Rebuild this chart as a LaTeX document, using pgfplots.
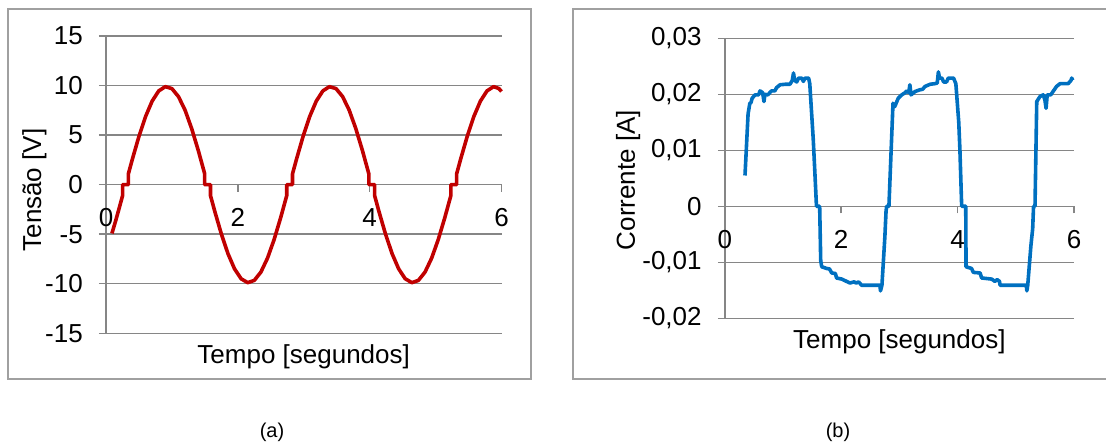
\documentclass[border=0pt]{standalone}
\usepackage{fontspec}
\setmainfont{Liberation Sans}
\usepackage{pgfplots}
\pgfplotsset{compat=1.18}
\definecolor{gridgray}{RGB}{134,134,134}
\definecolor{framegray}{RGB}{160,160,160}
\definecolor{exred}{RGB}{192,0,0}
\definecolor{exblue}{RGB}{0,112,192}
\pgfplotsset{excel/.style={
  scale only axis, anchor=south west,
  axis x line=middle, axis y line=left,
  axis line style={-, gridgray, line width=1.5pt},
  tick style={gridgray, line width=1.5pt},
  major tick length=7pt,
  tick align=outside,
  ymajorgrids, grid style={gridgray, line width=1.5pt},
  xmin=0, xmax=6, xtick={0,2,4,6}, xticklabels={0,2,4,6},
  hide obscured x ticks=false,
  scaled y ticks=false, scaled x ticks=false,
  ticklabel style={font=\fontsize{26}{26}\selectfont, inner sep=0pt},
  xticklabel style={anchor=north, yshift=-17pt},
  yticklabel style={anchor=east, xshift=-16pt},
  clip=false,
}}
\begin{document}
\begin{tikzpicture}
\path[use as bounding box] (0,0) rectangle (1106pt,444pt);
\draw[framegray, line width=1.8pt] (7.6pt,64.7pt) rectangle (530.7pt,435pt);
\draw[framegray, line width=1.8pt] (573.3pt,64.7pt) rectangle (1112pt,435pt);

\begin{axis}[excel, at={(106pt,110.7pt)}, width=395.5pt, height=297.3pt,
  ymin=-15, ymax=15, ytick={-15,-10,-5,0,5,10,15},
  yticklabels={-15,-10,-5,0,5,10,15}]
\addplot[exred, line width=3.6pt, line join=round] coordinates {
(0.09,-4.92)(0.15,-3.57)(0.2,-2.37)(0.252,-1.1)(0.252,0)(0.340,0)(0.340,1.1)
(0.4,2.57)(0.5,4.87)(0.6,6.87)(0.7,8.43)(0.8,9.46)(0.9,9.89)(1.0,9.69)
(1.1,8.88)(1.2,7.51)(1.3,5.65)(1.4,3.45)(1.497,1.1)(1.497,0)(1.585,0)(1.585,-1.1)
(1.65,-2.69)(1.75,-4.98)(1.85,-6.96)(1.95,-8.50)(2.05,-9.50)(2.15,-9.89)
(2.25,-9.66)(2.35,-8.82)(2.45,-7.42)(2.55,-5.55)(2.65,-3.33)(2.742,-1.1)
(2.742,0)(2.830,0)(2.830,1.1)(2.89,2.57)(2.99,4.87)(3.09,6.87)(3.19,8.43)
(3.29,9.46)(3.39,9.89)(3.49,9.69)(3.59,8.88)(3.69,7.51)(3.79,5.65)(3.89,3.45)
(3.987,1.1)(3.987,0)(4.075,0)(4.075,-1.1)(4.14,-2.69)(4.24,-4.98)(4.34,-6.96)
(4.44,-8.50)(4.54,-9.50)(4.64,-9.89)(4.74,-9.66)(4.84,-8.82)(4.94,-7.42)
(5.04,-5.55)(5.14,-3.33)(5.232,-1.1)(5.232,0)(5.320,0)(5.320,1.1)(5.38,2.57)
(5.48,4.87)(5.58,6.87)(5.68,8.43)(5.78,9.46)(5.88,9.89)(5.96,9.7)(6.0,9.4)
};
\end{axis}

\begin{axis}[excel, at={(724.8pt,125.7pt)}, width=349.2pt, height=280pt,
  ymin=-0.02, ymax=0.03, ytick={-0.02,-0.01,0,0.01,0.02,0.03},
  yticklabels={{-0,02},{-0,01},{0},{0,01},{0,02},{0,03}}]
\addplot[exblue, line width=3.6pt, line join=round] coordinates {
(0.347,0.0055)(0.40,0.0165)(0.43,0.0184)(0.45,0.0185)(0.47,0.0193)(0.52,0.0199)
(0.58,0.0199)(0.605,0.0206)(0.65,0.0203)(0.673,0.0187)(0.69,0.0200)(0.74,0.0199)
(0.80,0.0206)(0.86,0.0206)(0.89,0.0212)(0.95,0.0217)(1.05,0.0218)(1.12,0.0218)
(1.16,0.0225)(1.18,0.0238)(1.20,0.0225)(1.235,0.0222)(1.27,0.0229)(1.32,0.0229)
(1.35,0.0223)(1.38,0.0229)(1.44,0.0229)(1.46,0.0219)(1.52,0.0119)(1.55,0.0055)
(1.575,0)(1.63,0)(1.648,-0.0097)(1.665,-0.0108)(1.75,-0.0111)(1.80,-0.0112)
(1.837,-0.0119)(1.90,-0.0120)(1.92,-0.0128)(2.01,-0.0130)(2.09,-0.0134)
(2.15,-0.0137)(2.22,-0.0135)(2.26,-0.0137)(2.30,-0.0135)(2.35,-0.0141)
(2.60,-0.0141)(2.665,-0.0141)(2.675,-0.0151)(2.70,-0.0141)(2.75,-0.0055)
(2.77,-0.0010)(2.78,0)(2.82,0)(2.89,0.0184)(2.92,0.0178)(2.98,0.0193)
(3.04,0.0199)(3.10,0.0203)(3.125,0.0206)(3.16,0.0203)(3.18,0.0217)(3.20,0.0199)
(3.27,0.0205)(3.35,0.0208)(3.40,0.0209)(3.44,0.0214)(3.53,0.0218)(3.61,0.0219)
(3.65,0.0220)(3.67,0.0240)(3.69,0.0229)(3.73,0.0229)(3.76,0.0222)(3.81,0.0222)
(3.84,0.0229)(3.93,0.0229)(3.97,0.0219)(4.02,0.0150)(4.04,0.0100)(4.07,0)
(4.14,0)(4.145,-0.0108)(4.24,-0.0111)(4.27,-0.0118)(4.385,-0.0119)(4.414,-0.0128)
(4.586,-0.0130)(4.64,-0.0134)(4.68,-0.0131)(4.72,-0.0134)(4.73,-0.0141)
(5.18,-0.0141)(5.19,-0.0151)(5.205,-0.0141)(5.26,-0.0070)(5.29,-0.0040)
(5.305,0)(5.33,0)(5.36,0.0187)(5.415,0.0196)(5.47,0.0199)(5.50,0.0190)
(5.52,0.0175)(5.54,0.0199)(5.60,0.0199)(5.64,0.0205)(5.70,0.0214)(5.76,0.0219)
(5.90,0.0219)(5.95,0.0225)(5.96,0.0229)(5.98,0.0225)
};
\end{axis}

\node[rotate=90, font=\fontsize{26}{31}\selectfont] at (34.5pt,254pt) {Tensão [V]};
\node[anchor=base, inner sep=0pt, font=\fontsize{26}{31}\selectfont] at (303.7pt,80.7pt) {Tempo [segundos]};
\node[rotate=90, font=\fontsize{26}{31}\selectfont] at (628.2pt,264pt) {Corrente [A]};
\node[anchor=base, inner sep=0pt, font=\fontsize{26}{31}\selectfont] at (899.4pt,95.7pt) {Tempo [segundos]};
\node[font=\fontsize{20}{24}\selectfont] at (272pt,12pt) {(a)};
\node[font=\fontsize{20}{24}\selectfont] at (838pt,12pt) {(b)};
\end{tikzpicture}
\end{document}
